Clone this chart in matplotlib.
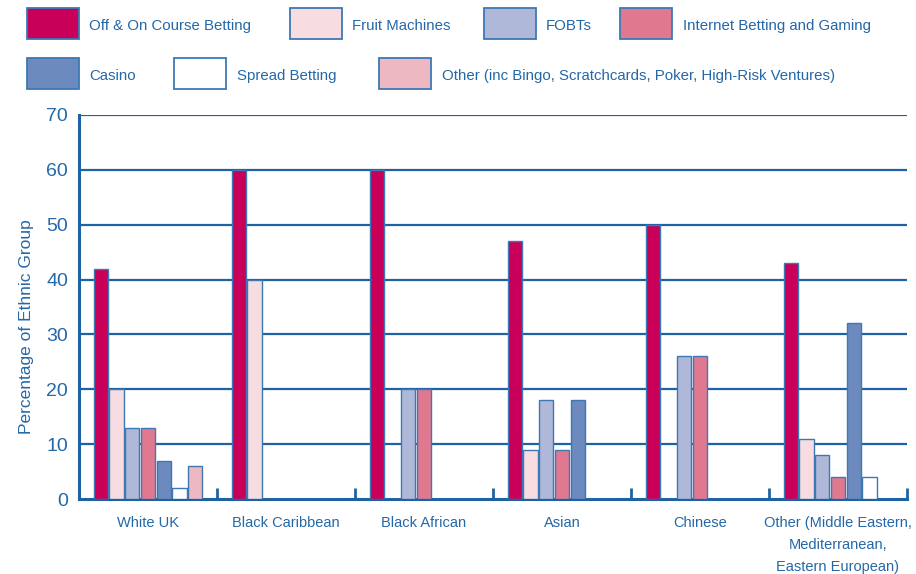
import matplotlib
matplotlib.use("Agg")
import matplotlib.pyplot as plt
from matplotlib.patches import Rectangle
import numpy as np

plt.rcParams['font.family'] = ['Liberation Sans Narrow', 'Liberation Sans', 'DejaVu Sans']

groups = ['White UK', 'Black Caribbean', 'Black African', 'Asian', 'Chinese',
          'Other (Middle Eastern,\nMediterranean,\nEastern European)']
series = ['Off & On Course Betting', 'Fruit Machines', 'FOBTs', 'Internet Betting and Gaming',
          'Casino', 'Spread Betting', 'Other (inc Bingo, Scratchcards, Poker, High-Risk Ventures)']
off_course = [42, 60, 60, 47, 50, 43]
fruit = [20, 40, 0, 9, 0, 11]
fobts = [13, 0, 20, 18, 26, 8]
internet = [13, 0, 20, 9, 26, 4]
casino = [7, 0, 0, 18, 0, 32]
spread = [2, 0, 0, 0, 0, 4]
other = [6, 0, 0, 0, 0, 0]
values = [off_course, fruit, fobts, internet, casino, spread, other]
colors = ['#C8005A', '#F7DDE1', '#AFB8D8', '#E07890', '#6C8ABD', '#FFFFFF', '#EDB8C2']

blue = '#1F62A3'
txt = '#2468A8'

fig = plt.figure(figsize=(9.16, 5.74), dpi=100)
ax = fig.add_axes([79/916, 1-499/574, 828/916, 384/574])

x = np.arange(len(groups))
slot = 0.114
width = 0.104
for i, vals in enumerate(values):
    ax.bar(x + (i - 3) * slot, vals, width=width, color=colors[i],
           edgecolor='#3C78B4', linewidth=1.0, zorder=3)

for y in range(10, 80, 10):
    ax.axhline(y, color=blue, lw=1.6, zorder=1)

ax.set_xlim(-0.5, 5.5)
ax.set_ylim(0, 70)
ax.set_yticks(range(0, 80, 10))
ax.tick_params(axis='y', length=0, pad=8, labelsize=14, labelcolor=txt)
ax.set_xticks(x)
ax.set_xticklabels(groups, fontsize=10.5, color=txt, linespacing=1.75)
ax.tick_params(axis='x', length=0, pad=12)
ax.set_xticks(np.arange(0.5, 5.6, 1), minor=True)
ax.tick_params(axis='x', which='minor', direction='in', length=8, width=2, color=blue)

for s in ['top', 'right']:
    ax.spines[s].set_visible(False)
for s in ['left', 'bottom']:
    ax.spines[s].set_color(blue)
    ax.spines[s].set_linewidth(2.2)

ax.set_ylabel('Percentage of Ethnic Group', fontsize=12.5, color=txt)
ax.yaxis.set_label_coords(-0.054, 0.45)

# legend laid out by hand to match the two staggered rows
legend_pos = [(27, 8, 89), (290, 8, 352), (484, 8, 546), (620, 8, 683),
              (27, 58, 89), (174, 58, 237), (379, 58, 442)]
for (bx, by, tx), name, c in zip(legend_pos, series, colors):
    fig.add_artist(Rectangle((bx/916, 1-(by+31)/574), 52/916, 31/574,
                             transform=fig.transFigure, facecolor=c,
                             edgecolor='#3C78B4', lw=1.3))
    fig.text(tx/916, 1-(by+18)/574, name, fontsize=10.8, color=txt, va='center')

fig.savefig('out.png', dpi=100)
